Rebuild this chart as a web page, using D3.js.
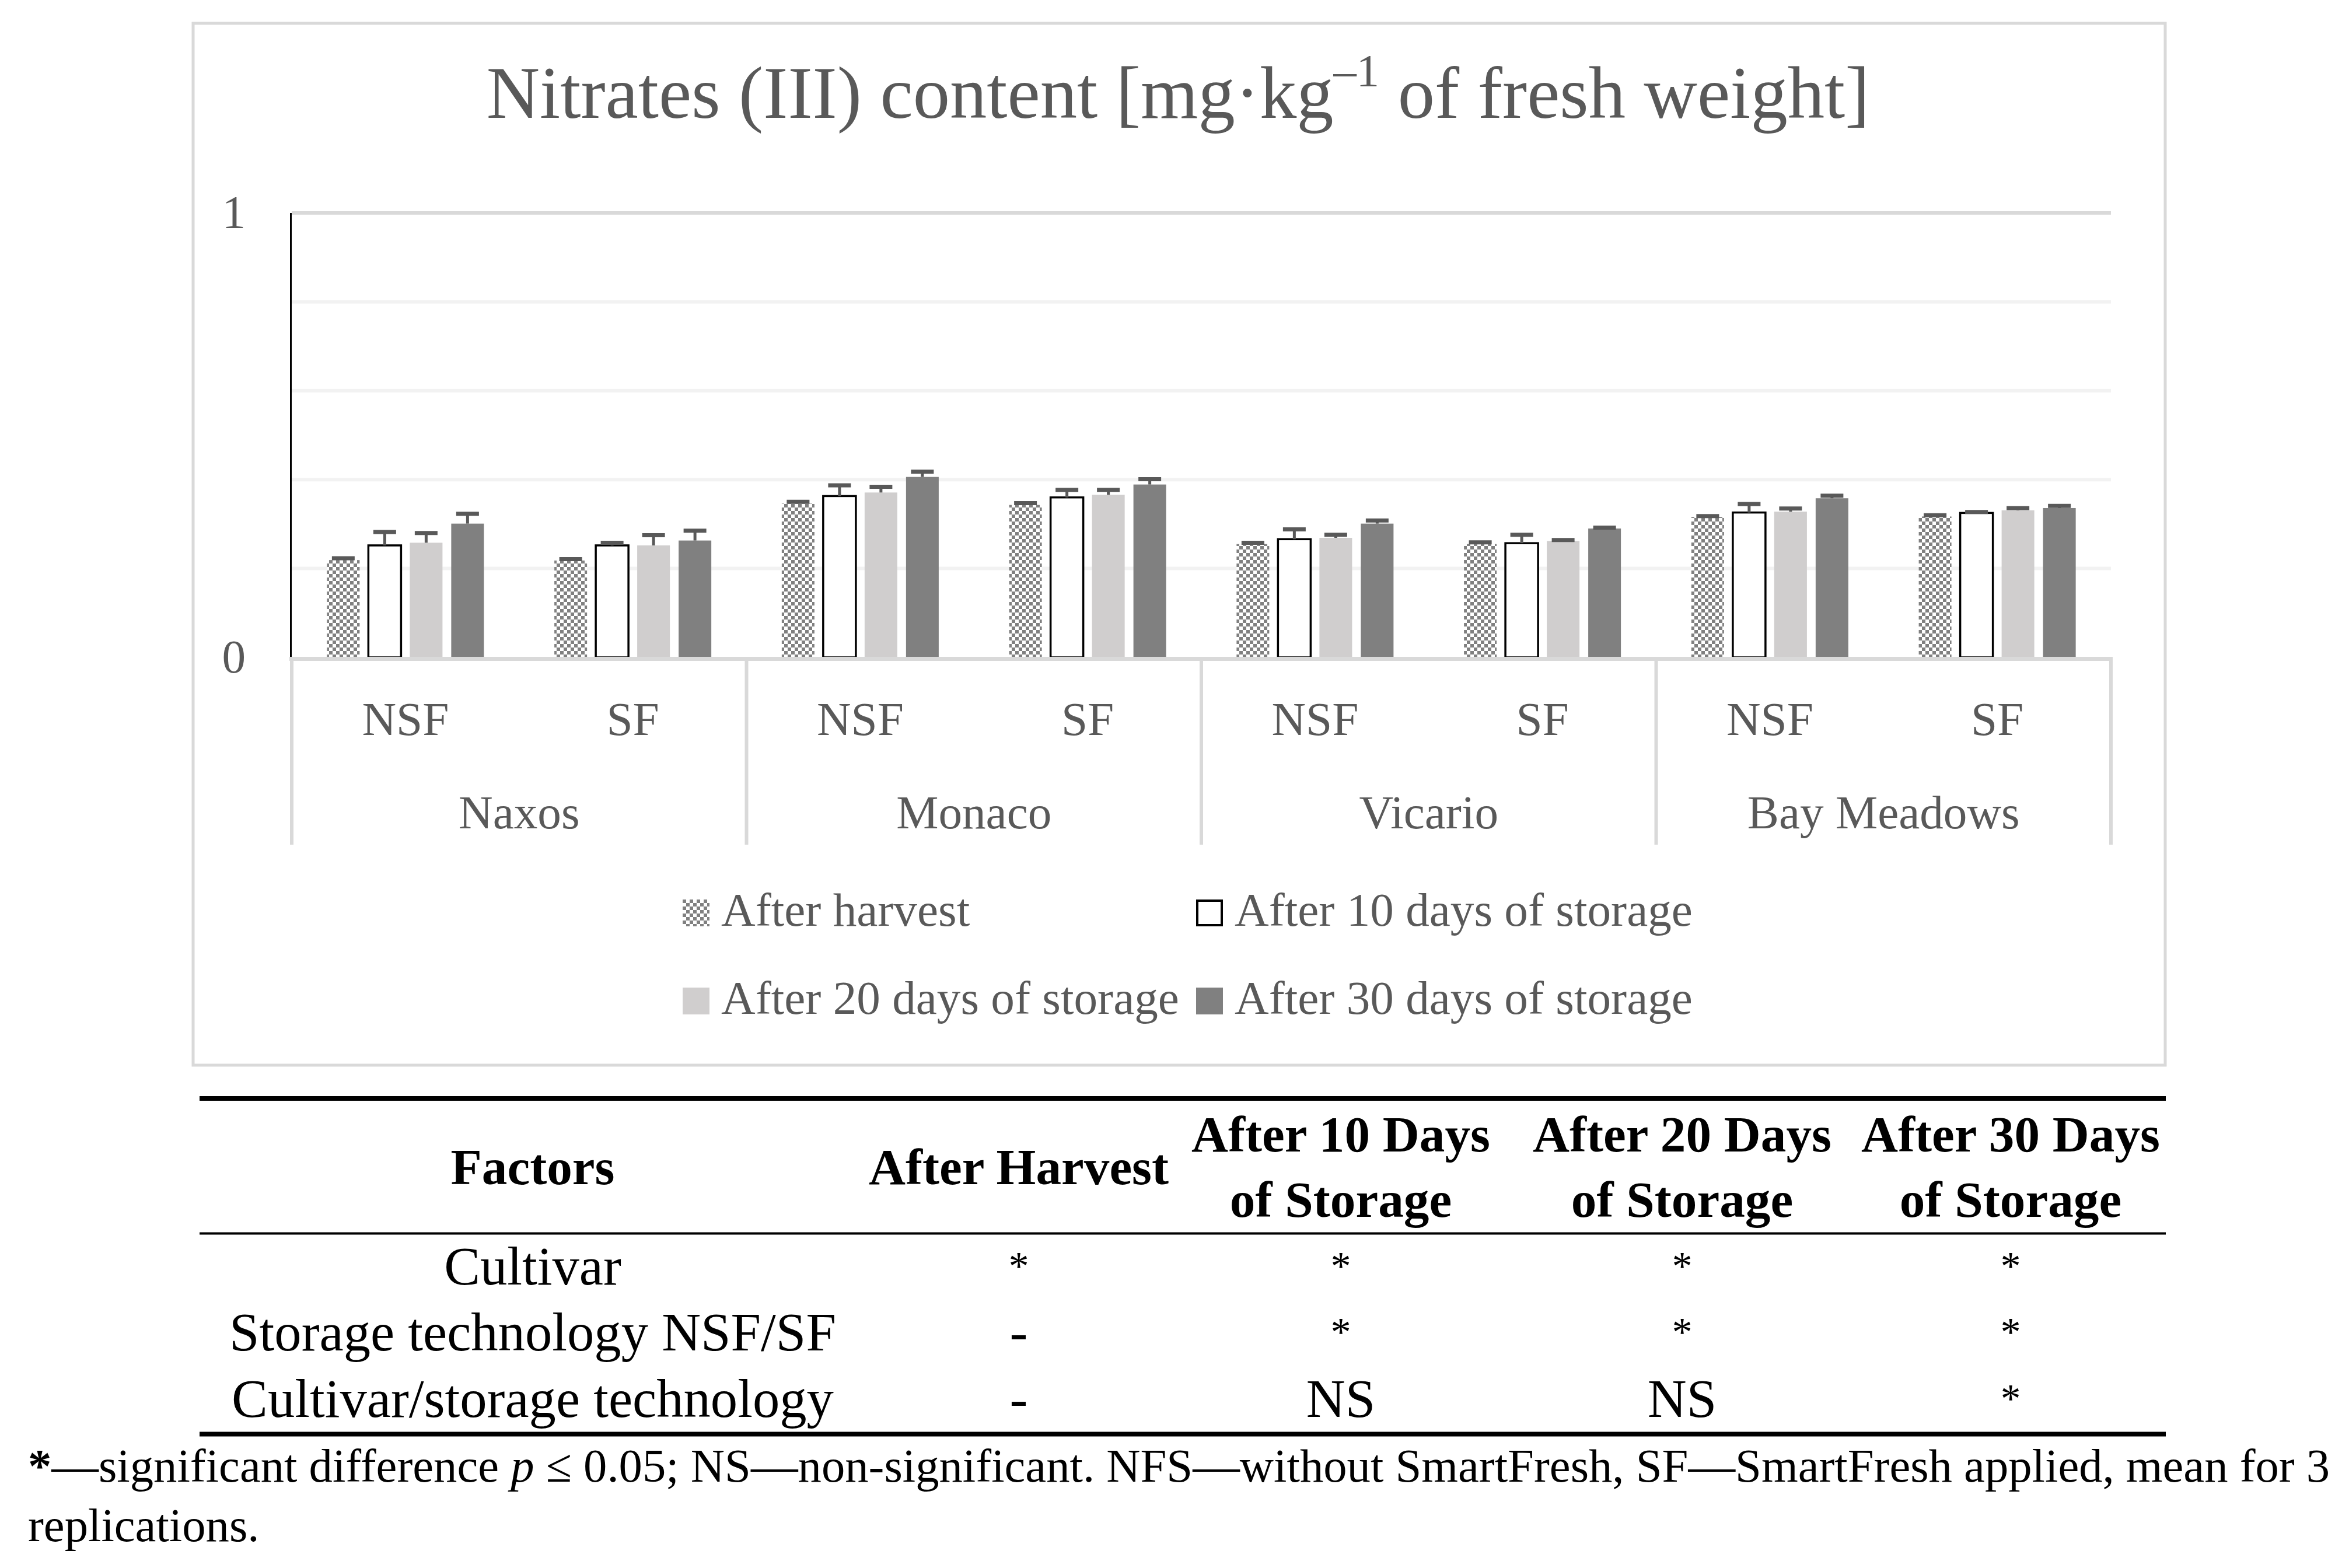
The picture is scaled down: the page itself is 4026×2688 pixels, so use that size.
<!DOCTYPE html>
<html>
<head>
<meta charset="utf-8">
<script src="https://d3js.org/d3.v7.min.js"></script>
<style>
  body { margin: 0; background: #fff; }
  svg { display: block; }
  text { font-family: 'Liberation Serif', 'Times New Roman', serif; }
</style>
</head>
<body>
<script>
// ---- data ----
const cultivars = ['Naxos', 'Monaco', 'Vicario', 'Bay Meadows'];
const technologies = ['NSF', 'SF'];
const seriesNames = ['After harvest', 'After 10 days of storage', 'After 20 days of storage', 'After 30 days of storage'];

// order: Naxos NSF, Naxos SF, Monaco NSF, Monaco SF, Vicario NSF, Vicario SF, Bay Meadows NSF, Bay Meadows SF
const afterHarvest = [0.219, 0.218, 0.346, 0.343, 0.255, 0.255, 0.316, 0.317];
const after10 = [0.252, 0.252, 0.363, 0.360, 0.266, 0.257, 0.326, 0.325];
const after20 = [0.258, 0.252, 0.371, 0.366, 0.269, 0.262, 0.328, 0.331];
const after30 = [0.301, 0.263, 0.406, 0.389, 0.301, 0.290, 0.358, 0.336];

const errHarvest = [0.004, 0.003, 0.004, 0.004, 0.003, 0.004, 0.002, 0.003];
const err10 = [0.030, 0.006, 0.024, 0.017, 0.022, 0.019, 0.019, 0.002];
const err20 = [0.022, 0.023, 0.013, 0.011, 0.007, 0.002, 0.007, 0.005];
const err30 = [0.022, 0.022, 0.012, 0.012, 0.007, 0.002, 0.006, 0.005];

const yTickLabels = [0, 1];
const minorGrid = [0.2, 0.4, 0.6, 0.8];

const tableHeaders = [['Factors'], ['After Harvest'], ['After 10 Days', 'of Storage'], ['After 20 Days', 'of Storage'], ['After 30 Days', 'of Storage']];
const factors = ['Cultivar', 'Storage technology NSF/SF', 'Cultivar/storage technology'];
const significance = [
    ['*', '*', '*', '*'],
    ['-', '*', '*', '*'],
    ['-', 'NS', 'NS', '*']
];

const W = 4026, H = 2688;
const textGray = '#595959';

const svg = d3.select('body').append('svg').attr('width', W).attr('height', H);
svg.append('rect').attr('width', W).attr('height', H).attr('fill', '#fff');

const defs = svg.append('defs');
const pat = defs.append('pattern').attr('id', 'checker').attr('patternUnits', 'userSpaceOnUse').attr('width', 12).attr('height', 12);
pat.append('rect').attr('width', 12).attr('height', 12).attr('fill', '#fff');
pat.append('rect').attr('width', 6).attr('height', 6).attr('fill', '#808080');
pat.append('rect').attr('x', 6).attr('y', 6).attr('width', 6).attr('height', 6).attr('fill', '#808080');

const fills = ['url(#checker)', '#ffffff', '#d0cece', '#808080'];

function fit(sel, w) {
    const cur = sel.node().getComputedTextLength();
    const fs = parseFloat(sel.attr('font-size'));
    sel.attr('font-size', fs * w / cur);
    return fs * w / cur;
}

// chart frame
svg.append('rect').attr('x', 331).attr('y', 40).attr('width', 3380).attr('height', 1786)
    .attr('fill', 'none').attr('stroke', '#d9d9d9').attr('stroke-width', 5);

// title
const title = svg.append('text').attr('x', 2019).attr('y', 202).attr('text-anchor', 'middle')
    .attr('fill', textGray).attr('font-size', 120);
title.append('tspan').text('Nitrates (III) content [mg·kg');
title.append('tspan').attr('font-size', '62%').attr('dy', '-0.7em').text('–1');
title.append('tspan').attr('dy', '0.434em').text(' of fresh weight]');
fit(title, 2371);

// scales
const cats = [];
cultivars.forEach(c => technologies.forEach(t => cats.push(c + '|' + t)));
const x0 = d3.scaleBand().domain(cats).range([500, 3618]).padding(0);
const inner = 284;
const x1 = d3.scaleBand().domain(seriesNames).range([(x0.bandwidth() - inner) / 2, (x0.bandwidth() + inner) / 2])
    .paddingInner(0.211).paddingOuter(0.1055);
const y = d3.scaleLinear().domain([0, 1]).range([1127, 365]);

// gridlines
const plot = svg.append('g');
plot.selectAll('line.minor').data(minorGrid).join('line')
    .attr('x1', 500).attr('x2', 3618).attr('y1', d => y(d)).attr('y2', d => y(d))
    .attr('stroke', '#f2f2f2').attr('stroke-width', 6);
plot.append('line').attr('x1', 500).attr('x2', 3618).attr('y1', y(1)).attr('y2', y(1))
    .attr('stroke', '#d9d9d9').attr('stroke-width', 6);

// bars
const seriesVals = [afterHarvest, after10, after20, after30];
const seriesErr = [errHarvest, err10, err20, err30];
const barData = [];
seriesNames.forEach((s, si) => cats.forEach((c, ci) => {
    barData.push({ s, si, c, v: seriesVals[si][ci], e: seriesErr[si][ci] });
}));

plot.selectAll('rect.bar').data(barData).join('rect')
    .attr('x', d => x0(d.c) + x1(d.s))
    .attr('width', x1.bandwidth())
    .attr('y', d => y(d.v))
    .attr('height', d => y(0) - y(d.v))
    .attr('fill', d => fills[d.si])
    .attr('stroke', d => d.si === 1 ? '#000' : 'none')
    .attr('stroke-width', 3.5);

// error bars (positive only)
const eb = plot.selectAll('g.err').data(barData).join('g');
eb.append('line')
    .attr('x1', d => x0(d.c) + x1(d.s) + x1.bandwidth() / 2)
    .attr('x2', d => x0(d.c) + x1(d.s) + x1.bandwidth() / 2)
    .attr('y1', d => y(d.v)).attr('y2', d => y(d.v + d.e))
    .attr('stroke', textGray).attr('stroke-width', 5);
eb.append('line')
    .attr('x1', d => x0(d.c) + x1(d.s) + x1.bandwidth() / 2 - 19.5)
    .attr('x2', d => x0(d.c) + x1(d.s) + x1.bandwidth() / 2 + 19.5)
    .attr('y1', d => y(d.v + d.e)).attr('y2', d => y(d.v + d.e))
    .attr('stroke', textGray).attr('stroke-width', 7);

// axes
svg.append('line').attr('x1', 498.5).attr('x2', 498.5).attr('y1', y(1)).attr('y2', y(0))
    .attr('stroke', '#000').attr('stroke-width', 3);
svg.append('line').attr('x1', 496).attr('x2', 3621).attr('y1', 1129.5).attr('y2', 1129.5)
    .attr('stroke', '#d9d9d9').attr('stroke-width', 7);

const groupEdges = d3.range(cultivars.length + 1).map(i => i < cultivars.length ? x0(cats[i * 2]) : x0.range()[1]);
svg.selectAll('line.div').data(groupEdges).join('line')
    .attr('x1', d => d).attr('x2', d => d).attr('y1', 1127).attr('y2', 1448)
    .attr('stroke', '#d9d9d9').attr('stroke-width', 6);

// chart font size fitted on one legend entry
const probe = svg.append('text').attr('font-size', 80).text('After 10 days of storage');
const fs = fit(probe, 785);
probe.remove();

svg.selectAll('text.ytick').data(yTickLabels).join('text')
    .attr('x', 421).attr('y', d => y(d) + 26).attr('text-anchor', 'end')
    .attr('fill', textGray).attr('font-size', fs).text(d => d);

svg.selectAll('text.tech').data(cats).join('text')
    .attr('x', d => x0(d) + x0.bandwidth() / 2).attr('y', 1260).attr('text-anchor', 'middle')
    .attr('fill', textGray).attr('font-size', fs).text(d => d.split('|')[1]);

svg.selectAll('text.cult').data(cultivars).join('text')
    .attr('x', (d, i) => (groupEdges[i] + groupEdges[i + 1]) / 2).attr('y', 1420).attr('text-anchor', 'middle')
    .attr('fill', textGray).attr('font-size', fs).text(d => d);

// legend
const legendPos = [[1170, 1542], [2050, 1542], [1170, 1693], [2050, 1693]];
const lg = svg.selectAll('g.legend').data(seriesNames).join('g')
    .attr('transform', (d, i) => `translate(${legendPos[i][0]},${legendPos[i][1]})`);
lg.append('rect').attr('x', (d, i) => i === 1 ? 2 : 0).attr('y', (d, i) => i === 1 ? 2 : 0)
    .attr('width', (d, i) => i === 1 ? 42 : 46).attr('height', (d, i) => i === 1 ? 42 : 46)
    .attr('fill', (d, i) => fills[i])
    .attr('stroke', (d, i) => i === 1 ? '#000' : 'none').attr('stroke-width', 4);
lg.append('text').attr('x', 66).attr('y', 45).attr('fill', textGray).attr('font-size', fs).text(d => d);

// table
const colX = [913, 1746, 2298, 2883, 3446];
const tbl = svg.append('g');
tbl.append('line').attr('x1', 342).attr('x2', 3712).attr('y1', 1883).attr('y2', 1883).attr('stroke', '#000').attr('stroke-width', 8);
tbl.append('line').attr('x1', 342).attr('x2', 3712).attr('y1', 2114.5).attr('y2', 2114.5).attr('stroke', '#000').attr('stroke-width', 4);
tbl.append('line').attr('x1', 342).attr('x2', 3712).attr('y1', 2458.5).attr('y2', 2458.5).attr('stroke', '#000').attr('stroke-width', 8);

const hprobe = svg.append('text').attr('font-size', 80).attr('font-weight', 'bold').text('After 10 Days');
const hfs = fit(hprobe, 512);
hprobe.remove();

tableHeaders.forEach((h, i) => {
    const t = tbl.append('text').attr('x', colX[i]).attr('text-anchor', 'middle')
        .attr('font-weight', 'bold').attr('font-size', hfs).attr('fill', '#000');
    if (h.length === 1) {
        t.attr('y', 2030).text(h[0]);
    } else {
        t.attr('y', 1974);
        t.append('tspan').attr('x', colX[i]).text(h[0]);
        t.append('tspan').attr('x', colX[i]).attr('dy', 112).text(h[1]);
    }
});

const bprobe = svg.append('text').attr('font-size', 80).text('Cultivar/storage technology');
const bfs = fit(bprobe, 1032);
bprobe.remove();

const rowY = [2202, 2315, 2429];
factors.forEach((f, r) => {
    tbl.append('text').attr('x', colX[0]).attr('y', rowY[r]).attr('text-anchor', 'middle')
        .attr('font-size', bfs).attr('fill', '#000').text(f);
    significance[r].forEach((s, c) => {
        const star = s === '*';
        tbl.append('text').attr('x', colX[c + 1]).attr('y', rowY[r] - (star ? 8 : 0)).attr('text-anchor', 'middle')
            .attr('font-size', star ? bfs * 0.75 : bfs).attr('fill', '#000').text(s);
    });
});

// footnote
const fn = svg.append('text').attr('x', 48).attr('y', 2540).attr('font-size', 70).attr('fill', '#000');
fn.append('tspan').attr('font-weight', 'bold').text('*');
fn.append('tspan').text('—significant difference ');
fn.append('tspan').attr('font-style', 'italic').text('p');
fn.append('tspan').text(' ≤ 0.05; NS—non-significant. NFS—without SmartFresh, SF—SmartFresh applied, mean for 3');
const ffs = fit(fn, 3946);
svg.append('text').attr('x', 48).attr('y', 2642).attr('font-size', ffs).attr('fill', '#000').text('replications.');
</script>
</body>
</html>
